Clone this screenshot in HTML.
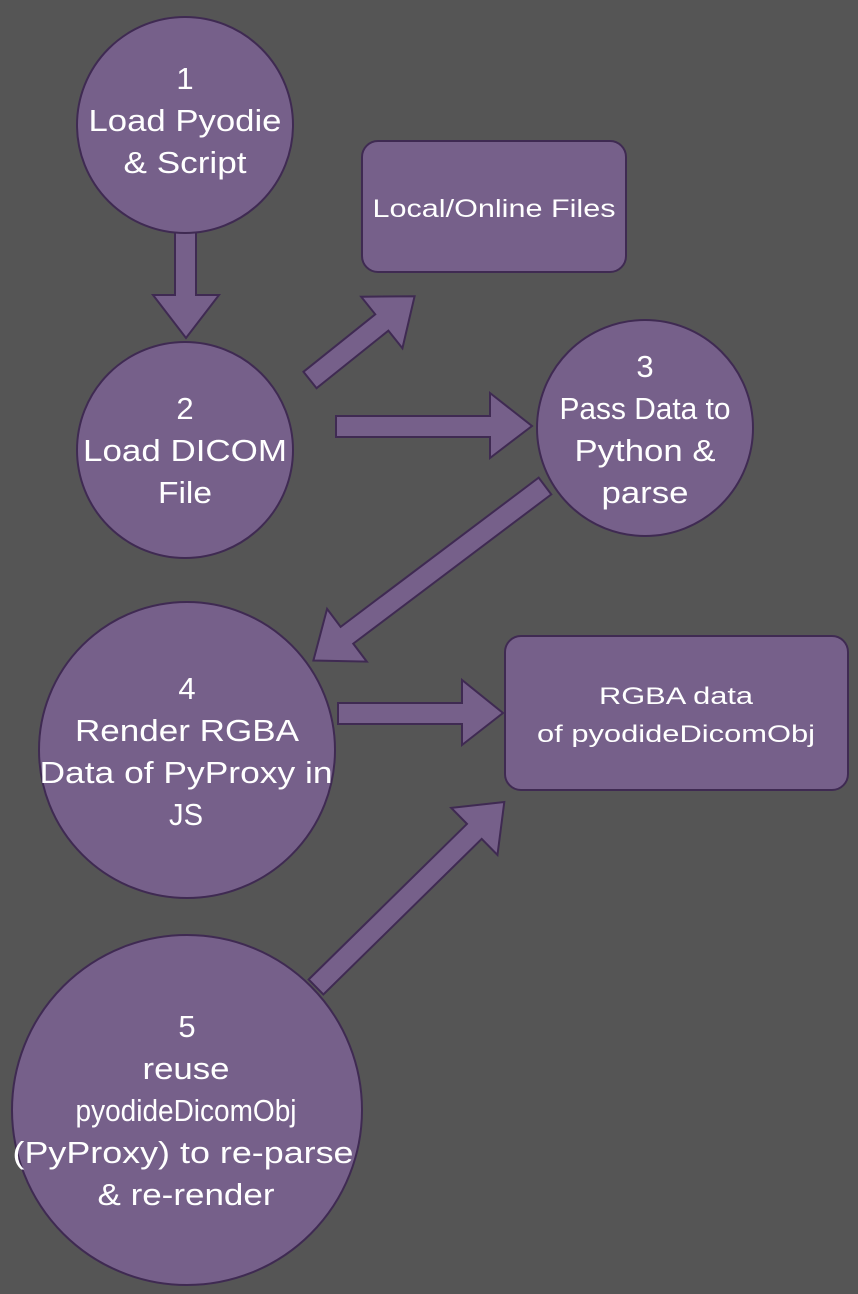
<!DOCTYPE html>
<html><head><meta charset="utf-8"><style>
html,body{margin:0;padding:0;background:#555555;}
svg{display:block}
text{font-family:"Liberation Sans",Arial,Helvetica,sans-serif;fill:#fff;text-anchor:middle}
</style></head><body>
<svg width="858" height="1294" viewBox="0 0 858 1294" xmlns="http://www.w3.org/2000/svg">
<rect width="858" height="1294" fill="#555555"/>
<g fill="#76608a" stroke="#3f2a52" stroke-width="2">
<polygon points="175,230 196,230 196,295 219,295 186,338 153,295 175,295"/>
<g transform="translate(310,380) rotate(-38.7)"><polygon points="0,-10.5 92,-10.5 92,-33 134,0 92,33 92,10.5 0,10.5"/></g>
<polygon points="336,416 490,416 490,393 532,426 490,458 490,437 336,437"/>
<g transform="translate(545,486) rotate(143)"><polygon points="0,-10.5 248,-10.5 248,-33 290,0 248,33 248,10.5 0,10.5"/></g>
<polygon points="338,703 462,703 462,680 503,713 462,745 462,724 338,724"/>
<g transform="translate(316,987) rotate(-44.5)"><polygon points="0,-10.5 222,-10.5 222,-33 264,0 222,33 222,10.5 0,10.5"/></g>
<circle cx="185" cy="125" r="108"/>
<circle cx="185" cy="450" r="108"/>
<circle cx="645" cy="428" r="108"/>
<circle cx="187" cy="750" r="148"/>
<circle cx="187" cy="1110" r="175"/>
<rect x="362" y="141" width="264" height="131" rx="16"/>
<rect x="505" y="636" width="343" height="154" rx="16"/>
</g>
<g font-size="31">
<text x="185" y="89">1</text>
<text x="185" y="131" textLength="193" lengthAdjust="spacingAndGlyphs">Load Pyodie</text>
<text x="185" y="173" textLength="123" lengthAdjust="spacingAndGlyphs">&amp; Script</text>
<text x="185" y="419">2</text>
<text x="185" y="461" textLength="204" lengthAdjust="spacingAndGlyphs">Load DICOM</text>
<text x="185" y="503" textLength="54" lengthAdjust="spacingAndGlyphs">File</text>
<text x="645" y="377">3</text>
<text x="645" y="419" textLength="171" lengthAdjust="spacingAndGlyphs">Pass Data to</text>
<text x="645" y="461" textLength="141" lengthAdjust="spacingAndGlyphs">Python &amp;</text>
<text x="645" y="503" textLength="87" lengthAdjust="spacingAndGlyphs">parse</text>
<text x="187" y="699">4</text>
<text x="187" y="741" textLength="224" lengthAdjust="spacingAndGlyphs">Render RGBA</text>
<text x="186" y="783" textLength="293" lengthAdjust="spacingAndGlyphs">Data of PyProxy in</text>
<text x="186" y="825" textLength="34" lengthAdjust="spacingAndGlyphs">JS</text>
<text x="187" y="1037">5</text>
<text x="186" y="1079" textLength="87" lengthAdjust="spacingAndGlyphs">reuse</text>
<text x="186" y="1121" textLength="221" lengthAdjust="spacingAndGlyphs">pyodideDicomObj</text>
<text x="183" y="1163" textLength="341" lengthAdjust="spacingAndGlyphs">(PyProxy) to re-parse</text>
<text x="186" y="1205" textLength="177" lengthAdjust="spacingAndGlyphs">&amp; re-render</text>
</g>
<text x="494" y="217" font-size="25" textLength="243" lengthAdjust="spacingAndGlyphs">Local/Online Files</text>
<text x="676" y="704" font-size="24" textLength="154" lengthAdjust="spacingAndGlyphs">RGBA data</text>
<text x="676" y="742" font-size="24" textLength="278" lengthAdjust="spacingAndGlyphs">of pyodideDicomObj</text>
</svg>
</body></html>
